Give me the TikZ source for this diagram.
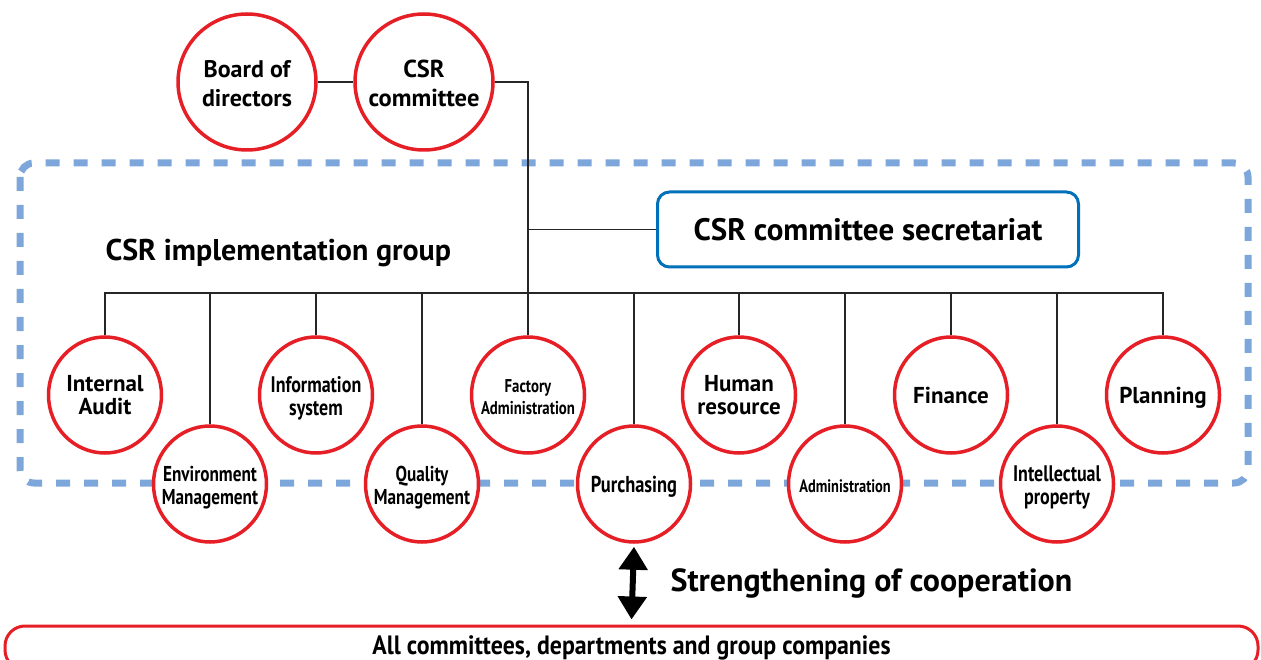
\documentclass[tikz,border=0pt]{standalone}
\usepackage{fontspec}
\setmainfont{PT Sans}
\newfontfamily\narrowfont[FakeStretch=0.8]{PT Sans}
\newfontfamily\semifont[FakeStretch=0.9]{PT Sans}
\usetikzlibrary{arrows.meta}
\usetikzlibrary{shapes.geometric}
\definecolor{csrred}{RGB}{230,30,38}
\definecolor{secblue}{RGB}{0,112,186}
\definecolor{groupblue}{RGB}{125,166,218}
\newcommand{\unitlabel}[1]{\makebox[0pt]{\raisebox{\dimexpr-0.25em-4pt\relax}[0pt][0pt]{\begin{tabular}{@{}c@{}}#1\end{tabular}}}}

\tikzset{
	unit/.style={ellipse, draw=csrred, line width=3.5pt, fill=white,
		minimum width=113pt, minimum height=116pt, inner sep=0pt,
		font=\bfseries\fontsize{23}{23.5}\selectfont},
	topunit/.style={unit, minimum width=138pt, minimum height=136pt,
		font=\bfseries\fontsize{24}{29}\selectfont},
	narrowunit/.style={unit, font=\narrowfont\bfseries\fontsize{21.5}{23}\selectfont},
	smallunit/.style={unit, font=\narrowfont\bfseries\fontsize{18.5}{22}\selectfont},
	link/.style={draw=black!85, line width=1.3pt},
}

\begin{document}
\begin{tikzpicture}[x=1pt,y=-1pt]
	
	\useasboundingbox (0,0) rectangle (1261,660);
	
	% implementation group frame
	\draw[groupblue, line width=7pt, dash pattern=on 14pt off 14pt, rounded corners=14pt]
		(20,163) rectangle (1248,483);
	\node[anchor=west, font=\bfseries\fontsize{30}{34}\selectfont] (grp) at (102,253) {CSR implementation group};
	
	% top level
	\node[topunit] (board) at (247,82) {\unitlabel{Board of\\directors}};
	\node[topunit, font=\bfseries\fontsize{24.5}{29}\selectfont] (csr) at (424,82) {\unitlabel{CSR\\committee}};
	\node[draw=secblue, line width=3pt, fill=white, rounded corners=12pt,
		minimum width=421pt, minimum height=75pt,
		font=\bfseries\fontsize{31}{34}\selectfont] (sec) at (868,229.5) {CSR committee secretariat};
	
	% departments, upper row
	\node[unit] (audit) at (105,395) {\unitlabel{Internal\\Audit}};
	\node[narrowunit, font=\narrowfont\bfseries\fontsize{22.5}{23}\selectfont] (info) at (316,395) {\unitlabel{Information\\system}};
	\node[smallunit] (factory) at (528,395) {\unitlabel{Factory\\Administration}};
	\node[unit] (hr) at (739,395) {\unitlabel{Human\\resource}};
	\node[unit] (finance) at (951,395) {\unitlabel{Finance}};
	\node[unit] (planning) at (1163,395) {\unitlabel{Planning}};
	
	% departments, lower row
	\node[narrowunit] (env) at (210,484) {\unitlabel{Environment\\Management}};
	\node[narrowunit] (quality) at (422,484) {\unitlabel{Quality\\Management}};
	\node[narrowunit, font=\narrowfont\bfseries\fontsize{23}{23}\selectfont] (purch) at (634,484) {\unitlabel{Purchasing}};
	\node[smallunit, font=\narrowfont\bfseries\fontsize{18}{22}\selectfont] (admin) at (845,484) {\unitlabel{Administration}};
	\node[narrowunit, font=\narrowfont\bfseries\fontsize{22.5}{23}\selectfont] (ip) at (1057,484) {\unitlabel{Intellectual\\property}};
	
	% connectors
	\coordinate (bus) at (528,293);
	\draw[link] (board) -- (csr);
	\draw[link] (csr.east) -| (bus);
	\draw[link] (sec.west) -- (sec.west -| bus);
	\draw[link] (audit.north) |- (planning.north |- bus) -- (planning.north);
	\foreach \d in {env,info,quality,factory,purch,hr,admin,finance,ip}
		\draw[link] (\d.north |- bus) -- (\d.north);
	
	% cooperation
	\node[draw=csrred, line width=3pt, rounded corners=20pt,
		minimum width=1253pt, minimum height=44pt,
		font=\semifont\bfseries\fontsize{26.5}{28}\selectfont] (all) at (631.5,648) {All committees, departments and group companies};
	\draw[line width=6pt, {Triangle[width=28pt,length=23pt]}-{Triangle[width=28pt,length=23pt]}]
		([yshift=-3pt]purch.south) -- ([yshift=5pt]all.north);
	\node[anchor=west, font=\bfseries\fontsize{32}{35}\selectfont] (coop) at (667,583) {Strengthening of cooperation};
	
\end{tikzpicture}
\end{document}
